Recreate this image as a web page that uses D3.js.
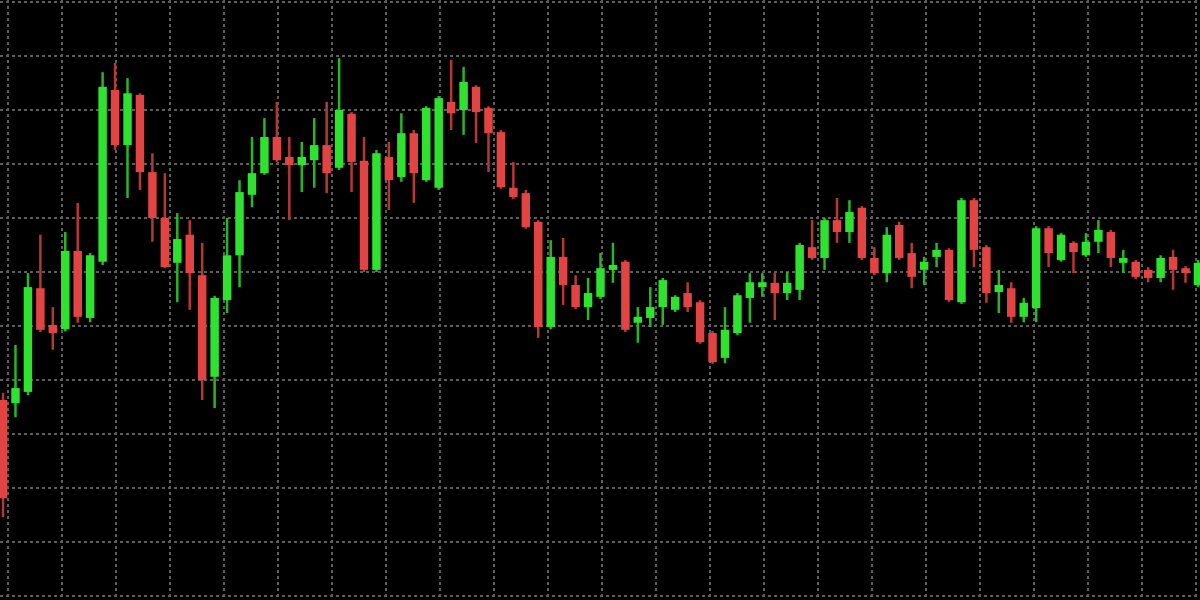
<!DOCTYPE html>
<html>
<head>
<meta charset="utf-8">
<script src="https://cdn.jsdelivr.net/npm/d3@7/dist/d3.min.js"></script>
<style>
  html, body { margin: 0; padding: 0; background: #000; }
  svg { display: block; }
</style>
</head>
<body>
<svg id="chart" width="1200" height="600"></svg>
<script>
// ---- DATA ----
const open  = [136.3,135.7,137.8,157.0,150.2,149.4,163.9,151.5,161.9,193.7,183.5,192.8,178.5,170.0,161.7,166.9,159.4,140.6,154.8,163.1,174.3,178.3,185.0,181.3,179.8,180.7,183.5,179.3,189.3,180.6,160.4,181.3,177.6,185.7,177.0,175.6,191.5,190.0,194.3,190.4,185.9,175.6,174.6,169.3,149.8,162.8,157.6,153.5,155.4,160.4,161.9,150.6,151.5,153.5,153.0,156.1,154.4,148.7,144.1,148.7,155.2,157.2,158.0,156.1,156.7,164.6,162.6,169.6,167.4,171.9,162.6,159.8,168.7,163.5,160.4,162.8,164.1,154.4,173.3,164.6,156.3,157.0,151.7,153.3,168.1,162.2,165.4,163.1,165.6,167.4,161.7,161.9,160.4,158.9,162.8,160.7,157.6];
const high  = [137.6,146.5,159.8,166.9,153.5,167.4,172.8,163.5,197.0,198.7,195.9,193.1,182.0,178.3,170.9,169.6,165.4,155.6,170.0,177.0,185.0,188.5,191.5,185.0,184.1,188.5,191.5,199.6,189.6,185.0,182.6,184.1,189.4,186.3,190.7,192.6,199.3,198.0,194.6,190.7,186.3,180.4,175.2,169.6,165.9,166.3,159.4,158.9,163.5,165.4,162.2,153.5,157.2,158.9,155.7,158.1,154.8,149.1,153.5,156.1,159.8,159.8,159.8,160.0,165.4,169.6,170.0,173.7,173.3,172.2,164.6,168.3,169.3,165.4,162.8,165.4,164.4,173.7,173.7,165.0,160.4,158.1,155.2,168.5,168.5,167.2,165.7,167.2,169.6,167.8,164.1,162.2,160.9,163.1,164.1,161.1,162.2];
const low   = [114.6,133.1,137.2,148.9,145.6,149.0,150.6,150.7,161.3,182.6,173.7,175.2,165.6,160.7,154.4,153.0,136.3,134.8,152.4,157.2,172.0,178.0,180.4,169.6,174.8,175.6,174.6,178.9,174.8,160.0,160.0,171.5,176.7,172.8,176.7,175.2,186.3,185.4,183.9,178.5,175.4,173.5,168.0,147.8,149.4,153.9,153.1,151.1,155.0,158.0,148.9,146.9,149.8,150.2,152.6,152.6,146.7,143.0,143.1,148.3,150.6,155.4,151.1,154.8,154.8,162.2,160.4,165.4,165.4,162.2,159.4,158.1,162.2,157.0,157.6,160.9,154.4,154.1,160.9,154.3,152.4,150.6,150.7,150.7,160.9,161.9,159.8,162.8,163.5,160.9,159.8,158.7,158.1,158.1,156.7,158.0,157.2];
const close = [118.1,138.5,157.2,149.3,148.7,163.9,151.7,163.1,194.3,183.5,193.1,178.5,170.0,160.9,166.1,159.8,140.0,155.2,163.1,174.8,178.3,185.0,180.7,179.8,181.3,183.5,178.3,190.0,180.4,160.4,182.0,177.0,185.7,178.3,190.4,192.2,189.4,195.2,189.6,185.7,175.7,173.9,168.3,149.8,162.8,157.6,153.5,156.1,160.7,161.3,149.3,151.7,153.5,158.5,155.4,153.5,147.0,143.3,149.3,155.7,158.1,158.1,156.1,158.0,165.0,162.6,169.6,167.4,171.1,162.6,159.8,166.9,162.6,159.1,161.9,164.1,154.8,173.3,164.1,156.1,157.6,151.7,154.3,168.1,163.5,166.9,163.7,165.6,167.8,162.6,162.6,159.1,158.9,162.6,160.4,159.8,161.7];
const priceTicks = [100,110,120,130,140,150,160,170,180,190,200,210];

// ---- RENDER ----
const W = 1200, H = 600;
const svg = d3.select("#chart");
svg.append("rect").attr("width", W).attr("height", H).attr("fill", "#000");

const idx = open.map((_, i) => i);
const x = d3.scaleBand().domain(idx).range([-1.2, 1202.2]).paddingInner(0.32);
const y = d3.scaleLinear().domain([100, 210]).range([596, 2]);

// grid
const grid = svg.append("g").attr("stroke", "#5e5e5e").attr("stroke-width", 2)
  .attr("stroke-dasharray", "3,3");
grid.selectAll("line.h").data(priceTicks).join("line").attr("class", "h")
  .attr("x1", 0).attr("x2", W).attr("y1", d => y(d)).attr("y2", d => y(d));
const gx = d3.scaleLinear().domain([0, 22]).range([8, 1196]);
grid.selectAll("line.v").data(gx.ticks(22)).join("line").attr("class", "v")
  .attr("y1", 0).attr("y2", H).attr("x1", d => gx(d)).attr("x2", d => gx(d));

const data = idx.map(i => ({ i, o: open[i], h: high[i], l: low[i], c: close[i] }));
const up = "#2fe22f", down = "#e24444";
const upW = "#25b825", downW = "#b93636";

const g = svg.append("g");
g.selectAll("line.wick").data(data).join("line").attr("class", "wick")
  .attr("x1", d => x(d.i) + x.bandwidth() / 2).attr("x2", d => x(d.i) + x.bandwidth() / 2)
  .attr("y1", d => y(d.h)).attr("y2", d => y(d.l))
  .attr("stroke", d => d.c >= d.o ? upW : downW).attr("stroke-width", 2.5);
g.selectAll("rect.body").data(data).join("rect").attr("class", "body")
  .attr("x", d => x(d.i)).attr("width", x.bandwidth())
  .attr("y", d => y(Math.max(d.o, d.c)))
  .attr("height", d => Math.max(2, Math.abs(y(d.o) - y(d.c))))
  .attr("fill", d => d.c >= d.o ? up : down);
</script>
</body>
</html>
